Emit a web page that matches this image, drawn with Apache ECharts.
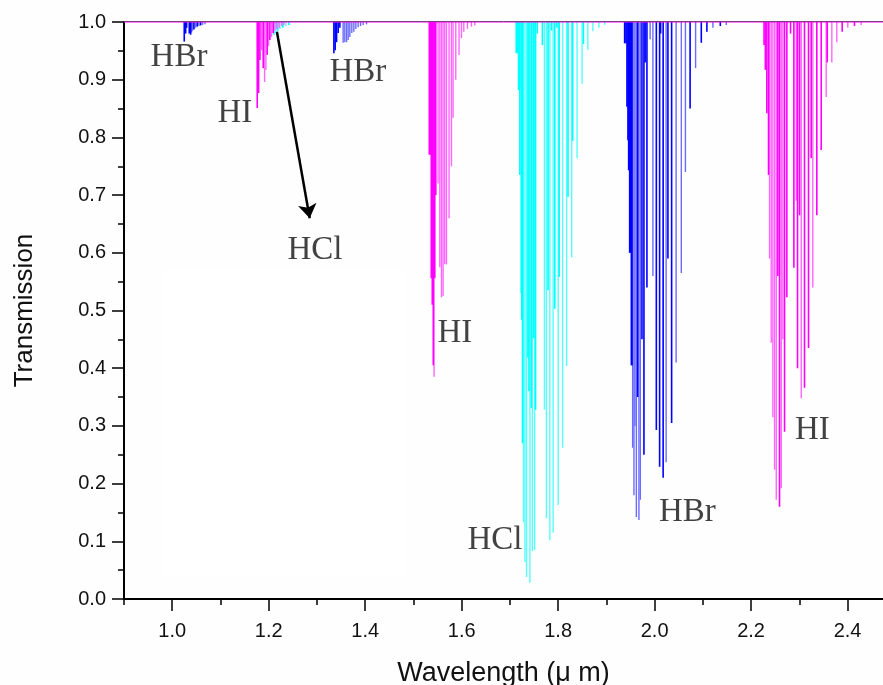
<!DOCTYPE html>
<html>
<head>
<meta charset="utf-8">
<script src="https://cdn.jsdelivr.net/npm/echarts@6/dist/echarts.min.js"></script>
<style>
html,body{margin:0;padding:0;background:#fdfefd;}
#chart{width:883px;height:685px;}
</style>
</head>
<body>
<div id="chart"></div>
<script>
// ---- axis ticks ----
const xMajorTicks = [1.0, 1.2, 1.4, 1.6, 1.8, 2.0, 2.2, 2.4];
const xMinorTicks = [0.9, 1.1, 1.3, 1.5, 1.7, 1.9, 2.1, 2.3];

// ---- HBr lines (H79Br dark, H81Br light) ----
const hbrDarkX = [1.0249, 1.0278, 1.0299, 1.0353, 1.0382, 1.0450, 1.0519, 1.0589,
  1.3351, 1.3378, 1.3407, 1.3440, 1.3475,
  1.9379, 1.9406, 1.9427, 1.9448, 1.9462, 1.9483, 1.9504, 1.9518, 1.9530, 1.9649, 1.9738, 1.9779, 1.9804, 1.9841,
  2.0036, 2.0104, 2.0125, 2.0177, 2.0276, 2.0353, 2.0736, 2.0968, 2.1084, 2.1362];
const hbrDarkT = [0.966, 0.980, 0.990, 0.980, 0.978, 0.987, 0.992, 0.994,
  0.946, 0.951, 0.965, 0.981, 0.990,
  0.963, 0.963, 0.853, 0.795, 0.743, 0.600, 0.600, 0.405, 0.405, 0.350, 0.450, 0.250, 0.930, 0.540,
  0.293, 0.229, 0.980, 0.210, 0.590, 0.305, 0.850, 0.964, 0.983, 0.993];
const hbrLightX = [1.0403, 1.0423, 1.0485, 1.0554, 1.0630, 1.0678,
  1.3543, 1.3578, 1.3614, 1.3647, 1.3682, 1.3723, 1.3765, 1.3806, 1.3854, 1.3904, 1.3958, 1.4028,
  1.9545, 1.9572, 1.9593, 1.9622, 1.9675, 1.9704, 1.9907, 1.9965, 2.0239, 2.0446, 2.0554, 2.0639, 2.0850, 2.1209, 2.1486];
const hbrLightT = [0.982, 0.985, 0.990, 0.993, 0.995, 0.996,
  0.964, 0.965, 0.965, 0.969, 0.974, 0.981, 0.983, 0.988, 0.991, 0.993, 0.995, 0.996,
  0.262, 0.180, 0.300, 0.142, 0.137, 0.172, 0.970, 0.560, 0.237, 0.410, 0.565, 0.740, 0.920, 0.990, 0.995];

// ---- HI lines ----
const hiDarkX = [1.1762, 1.1791, 1.1818, 1.1886, 1.1969, 1.2025, 1.2093,
  1.5329, 1.5350, 1.5370, 1.5391, 1.5412, 1.5443, 1.5464,
  2.2269, 2.2296, 2.2327, 2.2362, 2.2555, 2.2590, 2.2694, 2.2742, 2.2818, 2.2887, 2.2963, 2.3005,
  2.3108, 2.3191, 2.3247, 2.3363, 2.3454, 2.3579, 2.3889, 2.4144];
const hiDarkT = [0.851, 0.877, 0.934, 0.920, 0.943, 0.969, 0.981,
  0.770, 0.770, 0.556, 0.510, 0.405, 0.556, 0.700,
  0.960, 0.917, 0.842, 0.735, 0.560, 0.160, 0.290, 0.523, 0.980, 0.574, 0.400, 0.665,
  0.366, 0.435, 0.764, 0.665, 0.778, 0.930, 0.983, 0.993];
const hiLightX = [1.1853, 1.1915, 1.1942, 1.1998, 1.2060, 1.2128, 1.2164, 1.2217, 1.2267, 1.2315,
  1.5428, 1.5511, 1.5547, 1.5582, 1.5615, 1.5650, 1.5685, 1.5739, 1.5789, 1.5822, 1.5878, 1.5946, 1.5996, 1.6044, 1.6120, 1.6203, 1.6272,
  2.2383, 2.2418, 2.2452, 2.2487, 2.2522, 2.2626, 2.2659, 2.2936, 2.3040, 2.3280, 2.3558, 2.3674, 2.3777, 2.4005, 2.4283];
const hiLightT = [0.951, 0.896, 0.917, 0.958, 0.974, 0.985, 0.988, 0.990, 0.993, 0.995,
  0.385, 0.720, 0.575, 0.523, 0.525, 0.580, 0.580, 0.660, 0.750, 0.834, 0.900, 0.943, 0.972, 0.983, 0.988, 0.992, 0.994,
  0.590, 0.444, 0.315, 0.224, 0.172, 0.192, 0.450, 0.690, 0.348, 0.540, 0.870, 0.930, 0.965, 0.990, 0.995];

// ---- HCl lines (H35Cl bright, H37Cl light) ----
const hclDarkX = [1.2108, 1.2190, 1.2294, 1.2418,
  1.7131, 1.7152, 1.7179, 1.7206, 1.7245, 1.7262, 1.7374, 1.7395, 1.7444, 1.7492, 1.7533, 1.7569,
  1.7674, 1.7792, 1.7863, 1.7931, 1.7973, 1.8022, 1.8205, 1.8302, 1.8524];
const hclDarkT = [0.978, 0.985, 0.990, 0.995,
  0.946, 0.946, 0.882, 0.735, 0.484, 0.270, 0.418, 0.360, 0.331, 0.452, 0.328, 0.980,
  0.960, 0.535, 0.985, 0.503, 0.990, 0.558, 0.697, 0.794, 0.962];
const hclLightX = [1.2149, 1.2232, 1.2356,
  1.7227, 1.7283, 1.7312, 1.7345, 1.7415, 1.7465, 1.7513,
  1.7716, 1.7757, 1.7828, 1.7896, 1.8002, 1.8093, 1.8176, 1.8281, 1.8393, 1.8497, 1.8615, 1.8720, 1.8845, 1.8965];
const hclLightT = [0.982, 0.988, 0.993,
  0.530, 0.133, 0.064, 0.038, 0.028, 0.083, 0.085,
  0.328, 0.140, 0.102, 0.115, 0.163, 0.262, 0.404, 0.592, 0.764, 0.893, 0.952, 0.984, 0.990, 0.995];

// ---- annotations ----
const annoText = ['HBr', 'HI', 'HBr', 'HCl', 'HI', 'HCl', 'HBr', 'HI'];
const annoX = [1.014, 1.130, 1.385, 1.296, 1.586, 1.669, 2.068, 2.327];
const annoY = [0.938, 0.842, 0.912, 0.605, 0.461, 0.102, 0.151, 0.293];
const arrowFrom = [1.217, 0.983];
const arrowTo = [1.285, 0.660];

function zip(xs, ts) { return xs.map((x, i) => [x, ts[i]]); }

function lineSeries(name, xs, ts, color, width) {
  return {
    type: 'custom', name: name,
    data: zip(xs, ts),
    encode: { x: 0, y: 1 },
    itemStyle: { color: color },
    renderItem: function (params, api) {
      const x = api.value(0), t = api.value(1);
      const p0 = api.coord([x, 1]);
      const p1 = api.coord([x, t]);
      return { type: 'line', shape: { x1: p0[0], y1: p0[1], x2: p1[0], y2: p1[1] },
        style: { stroke: api.visual('color'), lineWidth: width } };
    }
  };
}

const X_MIN = 0.9, X_MAX = 2.4735;
const chart = echarts.init(document.getElementById('chart'), null, { renderer: 'canvas' });
const axisFont = 'Liberation Sans';
const option = {
  backgroundColor: '#fdfefd',
  animation: false,
  graphic: [{ type: 'rect', shape: { x: 163, y: 270, width: 240, height: 307 }, style: { fill: '#ffffff' }, z: -10, silent: true }],
  grid: { left: 124, top: 22, bottom: 86, right: 0, containLabel: false, outerBoundsMode: 'none' },
  xAxis: [
    { type: 'value', min: X_MIN, max: X_MAX, position: 'bottom',
      name: 'Wavelength (\u03bc m)', nameLocation: 'middle', nameGap: 61,
      nameTextStyle: { fontFamily: axisFont, fontSize: 27, color: '#111' },
      axisLine: { show: true, onZero: false, lineStyle: { color: '#000', width: 2 } },
      axisTick: { show: true, inside: false, length: 12, lineStyle: { color: '#000', width: 1.5 }, customValues: xMajorTicks },
      axisLabel: { show: true, margin: 22, fontFamily: axisFont, fontSize: 20, color: '#111', customValues: xMajorTicks,
        formatter: v => v.toFixed(1) },
      splitLine: { show: false } },
    { type: 'value', min: X_MIN, max: X_MAX, position: 'bottom',
      axisLine: { show: false, onZero: false },
      axisTick: { show: true, inside: false, length: 6, lineStyle: { color: '#000', width: 1.5 }, customValues: xMinorTicks },
      axisLabel: { show: false }, splitLine: { show: false } },
    { type: 'value', min: X_MIN, max: X_MAX, position: 'top', offset: 1,
      axisLine: { show: true, onZero: false, lineStyle: { color: '#555', width: 1 } },
      axisTick: { show: false }, axisLabel: { show: false }, splitLine: { show: false } }
  ],
  yAxis: {
    type: 'value', min: 0, max: 1, interval: 0.1,
    name: 'Transmission', nameLocation: 'middle', nameGap: 86,
    nameTextStyle: { fontFamily: axisFont, fontSize: 26, color: '#111' },
    axisLine: { show: true, onZero: false, lineStyle: { color: '#000', width: 2 } },
    axisTick: { show: true, inside: false, length: 12, lineStyle: { color: '#000', width: 1.5 } },
    minorTick: { show: true, splitNumber: 2, length: 6, lineStyle: { color: '#000', width: 1.5 } },
    axisLabel: { margin: 18, fontFamily: axisFont, fontSize: 20, color: '#111', formatter: v => v.toFixed(1) },
    splitLine: { show: false }
  },
  series: [
    lineSeries('HCl-light', hclLightX, hclLightT, '#55ffff', 1.4),
    lineSeries('HCl', hclDarkX, hclDarkT, '#00ffff', 1.6),
    lineSeries('HBr-light', hbrLightX, hbrLightT, '#6b6bff', 1.4),
    lineSeries('HBr', hbrDarkX, hbrDarkT, '#0000ff', 1.6),
    lineSeries('HI-light', hiLightX, hiLightT, '#ff66ff', 1.4),
    lineSeries('HI', hiDarkX, hiDarkT, '#ff00ff', 1.6),
    { type: 'line', name: 'baseline', data: [[X_MIN, 1], [X_MAX, 1]], showSymbol: false,
      lineStyle: { color: '#ff00ff', width: 1.2 }, silent: true,
      markLine: { silent: true, symbol: ['none', 'arrow'], symbolSize: 14,
        lineStyle: { color: '#000', width: 2.5, type: 'solid' }, label: { show: false },
        data: [[{ coord: arrowFrom }, { coord: arrowTo }]] } },
    { type: 'scatter', name: 'labels', symbolSize: 0, silent: true,
      data: annoText.map((t, i) => ({ value: [annoX[i], annoY[i]], name: t })),
      label: { show: true, position: 'inside', formatter: p => p.name,
        fontFamily: 'Liberation Serif', fontSize: 33, color: '#111',
        textBorderWidth: 0, textBorderColor: 'transparent' } }
  ]
};
chart.setOption(option);
</script>
</body>
</html>
